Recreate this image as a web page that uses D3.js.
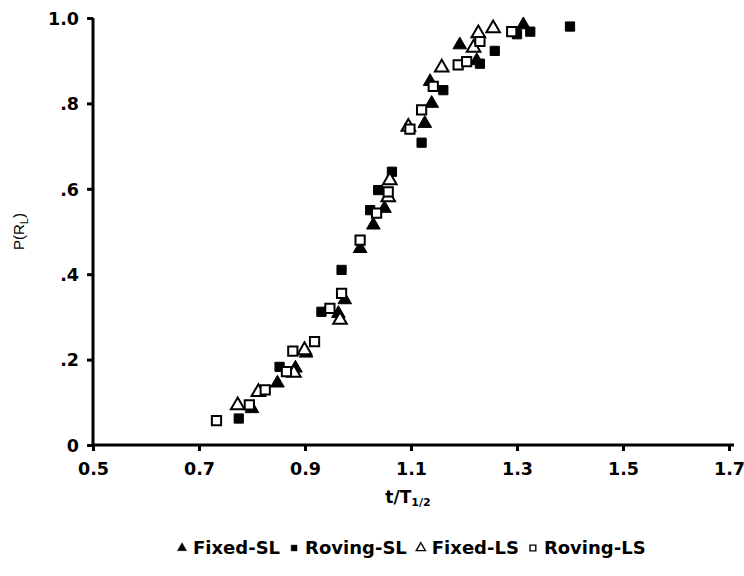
<!DOCTYPE html>
<html>
<head>
<meta charset="utf-8">
<script src="https://cdn.jsdelivr.net/npm/d3@7/dist/d3.min.js"></script>
<style>
  html, body { margin: 0; padding: 0; background: #fff; }
  svg { display: block; }
  text { fill: #000; }
</style>
</head>
<body>
<svg id="chart" width="744" height="576"></svg>
<script>
// Proportion of "long" responses vs. normalised duration, four conditions
const fixedSL = [
  [0.800, 0.085], [0.848, 0.145], [0.882, 0.180], [0.902, 0.215],
  [0.963, 0.308], [0.975, 0.340], [1.004, 0.460], [1.029, 0.515],
  [1.050, 0.554], [1.126, 0.753], [1.139, 0.800], [1.136, 0.851],
  [1.192, 0.937], [1.224, 0.900], [1.312, 0.984]
];
const rovingSL = [
  [0.775, 0.062], [0.852, 0.183], [0.931, 0.312], [0.969, 0.410],
  [1.023, 0.550], [1.038, 0.597], [1.064, 0.640], [1.120, 0.708],
  [1.161, 0.831], [1.230, 0.893], [1.258, 0.923], [1.300, 0.962],
  [1.325, 0.968], [1.400, 0.980]
];
const fixedLS = [
  [0.773, 0.093], [0.812, 0.124], [0.879, 0.169], [0.899, 0.222],
  [0.966, 0.293], [1.057, 0.580], [1.060, 0.620], [1.095, 0.745],
  [1.158, 0.884], [1.218, 0.930], [1.227, 0.964], [1.255, 0.976]
];
const rovingLS = [
  [0.733, 0.057], [0.795, 0.094], [0.825, 0.129], [0.865, 0.172],
  [0.877, 0.220], [0.918, 0.242], [0.947, 0.320], [0.969, 0.355],
  [1.004, 0.480], [1.035, 0.543], [1.057, 0.593], [1.098, 0.740],
  [1.120, 0.785], [1.142, 0.840], [1.189, 0.890], [1.205, 0.898],
  [1.230, 0.945], [1.290, 0.968]
];

const xTicks = [0.5, 0.7, 0.9, 1.1, 1.3, 1.5, 1.7];
const yTicks = [0, 0.2, 0.4, 0.6, 0.8, 1.0];
const yTickLabels = ["0", ".2", ".4", ".6", ".8", "1.0"];
const legendNames = ["Fixed-SL", "Roving-SL", "Fixed-LS", "Roving-LS"];

const boldFont = '"DejaVu Sans", Arial, sans-serif';
const plainFont = '"Liberation Sans", Arial, sans-serif';

const svg = d3.select("#chart");
const x = d3.scaleLinear().domain([0.5, 1.7]).range([93, 729]);
const y = d3.scaleLinear().domain([0, 1]).range([445, 18]);

// axes
const xAxis = svg.append("g").attr("transform", `translate(0,${y(0)})`)
  .call(d3.axisBottom(x).tickValues(xTicks).tickFormat(d3.format(".1f")).tickSize(6).tickPadding(12));
xAxis.select(".domain").attr("d", `M${x(0.5)},0H${x(1.7) + 5}`);
const yAxis = svg.append("g").attr("transform", `translate(${x(0.5)},0)`)
  .call(d3.axisLeft(y).tickValues(yTicks).tickFormat((d, i) => yTickLabels[i]).tickSize(6).tickPadding(8));
yAxis.select(".domain").attr("d", `M0,${y(1)}V${y(0)}`);

svg.selectAll(".domain").attr("stroke", "#000").attr("stroke-width", 3);
svg.selectAll(".tick line").attr("stroke", "#000").attr("stroke-width", 3);
svg.selectAll(".tick text")
  .style("font-family", boldFont)
  .style("font-size", "17.5px").style("font-weight", "bold").attr("fill", "#000");
yAxis.selectAll(".tick text").attr("dy", "0.36em");

// axis titles
svg.append("text")
  .attr("transform", `translate(24,${(y(0) + y(1)) / 2}) rotate(-90)`)
  .attr("text-anchor", "middle")
  .style("font-family", plainFont).style("font-size", "15px").attr("fill", "#000")
  .html('P(R<tspan dy="4" font-size="11">L</tspan><tspan dy="-4">)</tspan>');

svg.append("text")
  .attr("x", 408).attr("y", 503).attr("text-anchor", "middle")
  .style("font-family", boldFont).style("font-size", "17px").style("font-weight", "bold")
  .attr("fill", "#000")
  .html('t/T<tspan dy="3" font-size="11">1/2</tspan>');

// markers
const sym = (type, size) => d3.symbol().type(type).size(size)();
const triPath = sym(d3.symbolTriangle, 80);
const sqPath = sym(d3.symbolSquare, 85);

function drawSeries(data, path, filled) {
  svg.append("g").selectAll("path").data(data).join("path")
    .attr("d", path)
    .attr("transform", d => `translate(${x(d[0])},${y(d[1])})`)
    .attr("fill", filled ? "#000" : "#fff")
    .attr("stroke", "#000")
    .attr("stroke-width", filled ? 1 : 2);
}
drawSeries(fixedSL, triPath, true);
drawSeries(rovingSL, sqPath, true);
drawSeries(fixedLS, triPath, false);
drawSeries(rovingLS, sqPath, false);

// legend: symbol + label, laid out left to right
const legend = svg.append("g");
const legendSpec = [
  { path: sym(d3.symbolTriangle, 36), filled: true },
  { path: sym(d3.symbolSquare, 34), filled: true },
  { path: sym(d3.symbolTriangle, 36), filled: false },
  { path: sym(d3.symbolSquare, 34), filled: false }
];
let lx = 182;
legendNames.forEach((name, i) => {
  legend.append("path").attr("d", legendSpec[i].path)
    .attr("transform", `translate(${lx},548)`)
    .attr("fill", legendSpec[i].filled ? "#000" : "#fff")
    .attr("stroke", "#000").attr("stroke-width", legendSpec[i].filled ? 0.5 : 1.4);
  const t = legend.append("text").attr("x", lx + 11).attr("y", 554)
    .style("font-family", boldFont).style("font-size", "18px").style("font-weight", "bold")
    .attr("fill", "#000").text(name);
  lx += 11 + t.node().getComputedTextLength() + 14;
});
</script>
</body>
</html>
